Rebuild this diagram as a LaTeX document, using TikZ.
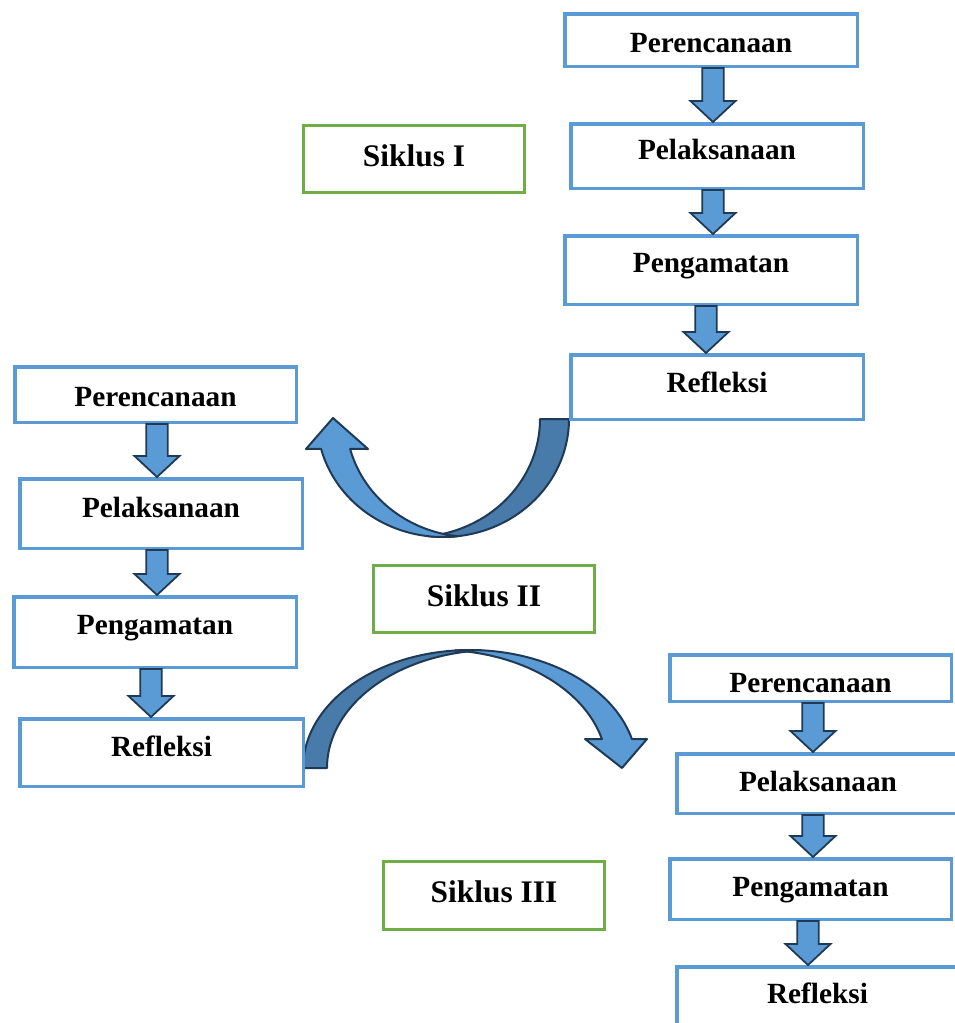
\documentclass[tikz,border=0pt]{standalone}
\usepackage{fontspec}
\setmainfont{Liberation Serif}
\usetikzlibrary{calc}
\definecolor{boxblue}{HTML}{5B9BD5}
\definecolor{arrfill}{HTML}{5B9BD5}
\definecolor{arrdark}{HTML}{487AAA}
\definecolor{arrline}{HTML}{203A55}
\definecolor{sgreen}{HTML}{70AD47}
\newcommand{\blockarrow}[3]{%
  \path[blockarr] let \p1=(#1.south), \p2=(#2.north) in
    (#3pt-10.75pt,\y1) -- (#3pt+10.75pt,\y1) -- (#3pt+10.75pt,\y2+21pt)
    -- (#3pt+22.5pt,\y2+21pt) -- (#3pt,\y2) -- (#3pt-22.5pt,\y2+21pt)
    -- (#3pt-10.75pt,\y2+21pt) -- cycle;}
\begin{document}
\begin{tikzpicture}[x=1pt,y=-1pt,
  box/.style={draw=boxblue, line width=3.5pt, rectangle, inner sep=0pt},
  cyc/.style={draw=sgreen, line width=3pt, rectangle, inner sep=0pt},
  lbl/.style={anchor=base, inner sep=0pt, font=\fontsize{29.3pt}{35pt}\selectfont\bfseries},
  slbl/.style={anchor=base, inner sep=0pt, font=\fontsize{31.4pt}{37pt}\selectfont\bfseries},
  blockarr/.style={draw=arrline, fill=arrfill, line width=1.8pt, line join=miter},
  lightarr/.style={draw=arrline, fill=arrfill, line width=2pt, line join=round},
  darkarr/.style={draw=arrline, fill=arrdark, line width=2pt, line join=round}]
\useasboundingbox (0,0) rectangle (955,1023);
\clip (0,0) rectangle (955,1023);

% curved arrow: Siklus I -> Siklus II
\path[darkarr] plot[domain=0:96.6, samples=50, variable=\t] ({443+126*cos(\t)},{419+118*sin(\t)})
  -- plot[domain=83.4:0, samples=50, variable=\t] ({414+126*cos(\t)},{419+118*sin(\t)}) -- cycle;
\path[lightarr] plot[domain=83.4:165.3, samples=50, variable=\t] ({443+126*cos(\t)},{419+118*sin(\t)})
  -- (306,449) -- (333,418) -- (368,449)
  -- plot[domain=165.3:96.6, samples=50, variable=\t] ({472+126*cos(\t)},{419+118*sin(\t)}) -- cycle;

% curved arrow: Siklus II -> Siklus III
\path[darkarr] plot[domain=180:274.12, samples=50, variable=\t] ({470+167*cos(\t)},{768+118*sin(\t)})
  -- plot[domain=265.88:180, samples=50, variable=\t] ({494+167*cos(\t)},{768+118*sin(\t)}) -- cycle;
\path[lightarr] plot[domain=264.85:345.8, samples=50, variable=\t] ({470+167*cos(\t)},{768+118*sin(\t)})
  -- (647,739) -- (622,768) -- (585,739)
  -- plot[domain=345.8:275.15, samples=50, variable=\t] ({440+167*cos(\t)},{768+118*sin(\t)}) -- cycle;

% Siklus I column
\node[box, minimum width=292.5pt, minimum height=52.5pt] (r1) at (711,40) {};
\node[box, minimum width=292.5pt, minimum height=64.5pt] (r2) at (717,156) {};
\node[box, minimum width=292.5pt, minimum height=68.5pt] (r3) at (711,270) {};
\node[box, minimum width=292.5pt, minimum height=64.5pt] (r4) at (717,387) {};
\node[lbl] (r1t) at (711,52) {Perencanaan};
\node[lbl] (r2t) at (717,159) {Pelaksanaan};
\node[lbl] (r3t) at (711,272) {Pengamatan};
\node[lbl] (r4t) at (717,392) {Refleksi};
\blockarrow{r1}{r2}{713}
\blockarrow{r2}{r3}{713}
\blockarrow{r3}{r4}{706}

% Siklus II column
\node[box, minimum width=281.5pt, minimum height=55.5pt] (l1) at (155.5,394.5) {};
\node[box, minimum width=282.5pt, minimum height=69.5pt] (l2) at (161,513.5) {};
\node[box, minimum width=282.5pt, minimum height=70.5pt] (l3) at (155,632) {};
\node[box, minimum width=283.5pt, minimum height=67.5pt] (l4) at (161.5,752.5) {};
\node[lbl] (l1t) at (155.5,406) {Perencanaan};
\node[lbl] (l2t) at (161,517) {Pelaksanaan};
\node[lbl] (l3t) at (155,634) {Pengamatan};
\node[lbl] (l4t) at (161.5,756) {Refleksi};
\blockarrow{l1}{l2}{157}
\blockarrow{l2}{l3}{157}
\blockarrow{l3}{l4}{151}

% Siklus III column
\node[box, minimum width=281.5pt, minimum height=46.5pt] (b1) at (810.5,678) {};
\node[box, minimum width=282.5pt, minimum height=59.5pt] (b2) at (818,783.5) {};
\node[box, minimum width=281.5pt, minimum height=60.5pt] (b3) at (810.5,889) {};
\node[box, minimum width=281.5pt, minimum height=66.5pt] (b4) at (817.5,1000) {};
\node[lbl] (b1t) at (810.5,692) {Perencanaan};
\node[lbl] (b2t) at (818,791) {Pelaksanaan};
\node[lbl] (b3t) at (810.5,896) {Pengamatan};
\node[lbl] (b4t) at (817.5,1003) {Refleksi};
\blockarrow{b1}{b2}{813}
\blockarrow{b2}{b3}{813}
\blockarrow{b3}{b4}{808}

% cycle labels
\node[cyc, minimum width=221pt, minimum height=67pt] (s1) at (414,159) {};
\node[cyc, minimum width=221pt, minimum height=67pt] (s2) at (484,599) {};
\node[cyc, minimum width=221pt, minimum height=68pt] (s3) at (494,895.5) {};
\node[slbl] (s1t) at (414,166) {Siklus I};
\node[slbl] (s2t) at (484,606) {Siklus II};
\node[slbl] (s3t) at (494,902) {Siklus III};
\end{tikzpicture}
\end{document}
